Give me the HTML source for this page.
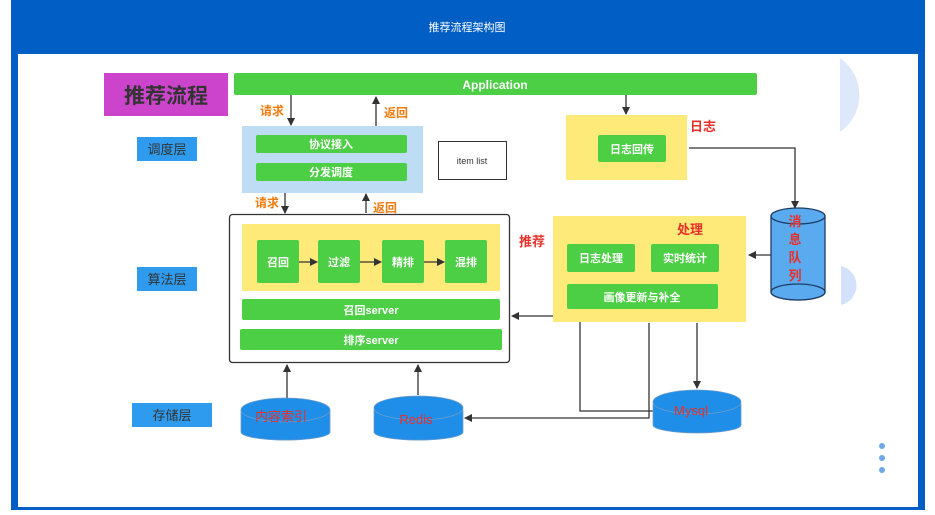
<!DOCTYPE html>
<html><head><meta charset="utf-8"><style>
body{margin:0;width:935px;height:510px;overflow:hidden;background:#fff;font-family:"Liberation Sans","Noto Sans CJK SC",sans-serif}
</style></head><body>
<svg width="935" height="510" xmlns="http://www.w3.org/2000/svg" font-family="Liberation Sans, Noto Sans CJK SC, sans-serif">
<defs><marker id="a" markerWidth="8" markerHeight="8" refX="7" refY="4" orient="auto" markerUnits="userSpaceOnUse"><path d="M0,0 L8,4 L0,8z" fill="#333"/></marker></defs>
<rect x="11" y="0" width="914" height="510" fill="#005ec4"/>
<rect x="18" y="54" width="900" height="453" fill="#fff"/>
<text x="467" y="31" fill="#fff" font-size="11" text-anchor="middle">推荐流程架构图</text>
<path d="M840,58 A45,45 0 0 1 840,132 Z" fill="#dde8fb"/>
<path d="M841,266 A20,20 0 0 1 841,305 Z" fill="#d3e2fb"/>
<circle cx="882" cy="446" r="3" fill="#6ea8e8"/><circle cx="882" cy="458" r="3" fill="#6ea8e8"/><circle cx="882" cy="470" r="3" fill="#6ea8e8"/>
<g font-weight="bold">
<rect x="104" y="73" width="124" height="43" fill="#cc44cc"/>
<text x="166" y="103" font-size="21" text-anchor="middle" fill="#333">推荐流程</text>
<rect x="234" y="73" width="523" height="22" rx="2" fill="#4ccf44"/>
<text x="495" y="89" font-size="12" fill="#fff" text-anchor="middle">Application</text>
<g stroke="#333" stroke-width="1.3" fill="none">
<line x1="291" y1="95" x2="291" y2="125" marker-end="url(#a)"/>
<line x1="376" y1="126" x2="376" y2="97" marker-end="url(#a)"/>
<line x1="285" y1="193" x2="285" y2="213" marker-end="url(#a)"/>
<line x1="366" y1="213" x2="366" y2="194" marker-end="url(#a)"/>
<line x1="626" y1="95" x2="626" y2="114" marker-end="url(#a)"/>
<path d="M689,148 H795 V208" marker-end="url(#a)"/>
<line x1="771" y1="255" x2="749" y2="255" marker-end="url(#a)"/>
<path d="M653,411 H580 V316 H512" marker-end="url(#a)"/>
<path d="M649,323 V418 H465" marker-end="url(#a)"/>
<line x1="697" y1="323" x2="697" y2="388" marker-end="url(#a)"/>
<line x1="287" y1="398" x2="287" y2="365" marker-end="url(#a)"/>
<line x1="418" y1="395" x2="418" y2="365" marker-end="url(#a)"/>
</g>
<g font-size="12" fill="#f07c10">
<text x="260" y="115">请求</text><text x="384" y="117">返回</text>
<text x="255" y="207">请求</text><text x="373" y="212">返回</text>
</g>
<rect x="242" y="126" width="181" height="67" fill="#bfdcf5"/>
<rect x="256" y="135" width="151" height="18" rx="2" fill="#4ccf44"/>
<text x="331" y="148" font-size="11" fill="#fff" text-anchor="middle">协议接入</text>
<rect x="256" y="163" width="151" height="18" rx="2" fill="#4ccf44"/>
<text x="331" y="176" font-size="11" fill="#fff" text-anchor="middle">分发调度</text>
<rect x="438.5" y="141.5" width="68" height="38" fill="#fff" stroke="#333"/>
<text x="472" y="164" font-size="9" font-weight="normal" fill="#333" text-anchor="middle">item list</text>
<g font-weight="normal" font-size="13" fill="#333" text-anchor="middle">
<rect x="137" y="137" width="60" height="24" fill="#2f9bef"/><text x="167" y="154">调度层</text>
<rect x="137" y="267" width="60" height="24" fill="#2f9bef"/><text x="167" y="284">算法层</text>
<rect x="132" y="403" width="80" height="24" fill="#2f9bef"/><text x="172" y="420">存储层</text>
</g>
<rect x="229.5" y="214.5" width="280" height="148" rx="3" fill="#fff" stroke="#333" stroke-width="1.3"/>
<rect x="242" y="224" width="258" height="67" fill="#fdea78"/>
<g font-size="11" fill="#fff" text-anchor="middle">
<rect x="257" y="240" width="42" height="43" rx="2" fill="#4ccf44"/><text x="278" y="266">召回</text>
<rect x="318" y="240" width="42" height="43" rx="2" fill="#4ccf44"/><text x="339" y="266">过滤</text>
<rect x="382" y="240" width="42" height="43" rx="2" fill="#4ccf44"/><text x="403" y="266">精排</text>
<rect x="445" y="240" width="42" height="43" rx="2" fill="#4ccf44"/><text x="466" y="266">混排</text>
</g>
<g stroke="#333" stroke-width="1.3"><line x1="299" y1="262" x2="317" y2="262" marker-end="url(#a)"/><line x1="360" y1="262" x2="381" y2="262" marker-end="url(#a)"/><line x1="424" y1="262" x2="444" y2="262" marker-end="url(#a)"/></g>
<rect x="242" y="299" width="258" height="21" rx="2" fill="#4ccf44"/><text x="371" y="314" font-size="11" fill="#fff" text-anchor="middle">召回server</text>
<rect x="240" y="329" width="262" height="21" rx="2" fill="#4ccf44"/><text x="371" y="344" font-size="11" fill="#fff" text-anchor="middle">排序server</text>
<rect x="566" y="115" width="121" height="65" fill="#fdea78"/>
<rect x="598" y="135" width="68" height="27" rx="2" fill="#4ccf44"/><text x="632" y="153" font-size="11" fill="#fff" text-anchor="middle">日志回传</text>
<text x="690" y="131" font-size="13" fill="#e8302a">日志</text>
<rect x="553" y="216" width="193" height="106" fill="#fdea78"/>
<text x="677" y="234" font-size="13" fill="#e8302a">处理</text>
<text x="519" y="246" font-size="13" fill="#e8302a">推荐</text>
<rect x="567" y="244" width="68" height="28" rx="2" fill="#4ccf44"/><text x="601" y="262" font-size="11" fill="#fff" text-anchor="middle">日志处理</text>
<rect x="651" y="244" width="68" height="28" rx="2" fill="#4ccf44"/><text x="685" y="262" font-size="11" fill="#fff" text-anchor="middle">实时统计</text>
<rect x="567" y="284" width="151" height="25" rx="2" fill="#4ccf44"/><text x="642" y="301" font-size="11" fill="#fff" text-anchor="middle">画像更新与补全</text>
<g stroke="#1c3d66" stroke-width="1.3">
<path d="M771,216 V292 A27,8 0 0 0 825,292 V216 Z" fill="#5aaaf0"/>
<ellipse cx="798" cy="216" rx="27" ry="8" fill="#5aaaf0"/>
<ellipse cx="798" cy="292" rx="27" ry="8" fill="#5aaaf0"/>
</g>
<g font-size="13" fill="#e8302a" text-anchor="middle"><text x="795" y="226">消</text><text x="795" y="244">息</text><text x="795" y="262">队</text><text x="795" y="280">列</text></g>
<g fill="#1f8ee8" stroke="#6f9cc8" stroke-width="0.8">
<path d="M241,410 V432 A44,8 0 0 0 330,432 V410 Z"/><ellipse cx="285.5" cy="410" rx="44.5" ry="12"/>
<path d="M374,410 V432 A44,8 0 0 0 463,432 V410 Z"/><ellipse cx="418.5" cy="408" rx="44.5" ry="12"/>
<path d="M653,404 V425 A44,8 0 0 0 741,425 V404 Z"/><ellipse cx="697" cy="402" rx="44" ry="12"/>
</g>
<g font-size="13" fill="#e8302a" text-anchor="middle" font-weight="normal">
<text x="281" y="421">内容索引</text><text x="416" y="424">Redis</text><text x="691" y="415">Mysql</text>
</g>
</g>
</svg>
</body></html>
